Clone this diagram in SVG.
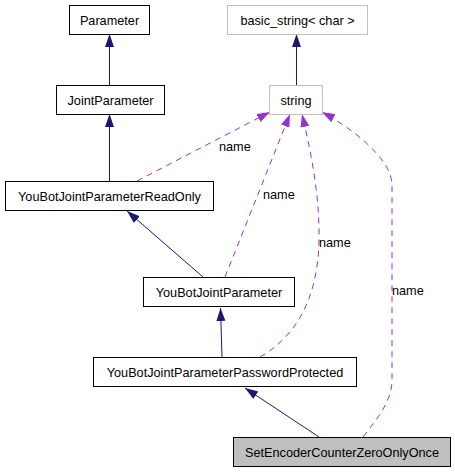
<svg xmlns="http://www.w3.org/2000/svg" width="455" height="472" viewBox="0 0 455 472">
<style>
  .box { fill: #ffffff; stroke: #000000; stroke-width: 1; }
  .gbox { fill: #ffffff; stroke: #bfbfbf; stroke-width: 1; }
  .cur { fill: #bfbfbf; stroke: #000000; stroke-width: 1; }
  text { font-family: "Liberation Sans", Arial, Helvetica, sans-serif; font-size: 12.7px; fill: #000000; }
  .lbl { text-anchor: middle; }
  .inh { fill: none; stroke: #191970; stroke-width: 1; marker-end: url(#navy); }
  .use { fill: none; stroke: #9a32cd; stroke-width: 1; stroke-dasharray: 6,5; marker-end: url(#purple); }
</style>
<defs>
  <marker id="navy" markerUnits="userSpaceOnUse" markerWidth="14" markerHeight="10" refX="13" refY="4.5" orient="auto">
    <path d="M0,0 L13,4.5 L0,9 z" fill="#191970"/>
  </marker>
  <marker id="purple" markerUnits="userSpaceOnUse" markerWidth="14" markerHeight="10" refX="13" refY="4.5" orient="auto">
    <path d="M0,0 L13,4.5 L0,9 z" fill="#9a32cd"/>
  </marker>
</defs>
<rect width="455" height="472" fill="#ffffff"/>
<g id="connectors">
  <path class="inh" d="M109.5,85 L109.5,34"/>
  <path class="inh" d="M109.5,181 L109.5,114"/>
  <path class="inh" d="M203,277 L127,211"/>
  <path class="inh" d="M222,357 L220.5,308"/>
  <path class="inh" d="M319,437 L245,388"/>
  <path class="inh" d="M296.5,85 L296.5,34"/>
  <path class="use" d="M137,181 L270,112"/>
  <path class="use" d="M225,277 L290,114"/>
  <path class="use" d="M260,357 C295,337 318,300 319,240 C320,190 308,140 302,114"/>
  <path class="use" d="M363,437 C380,415 392,400 392,380 L392,185 C392,160 355,130 322,112"/>
  <text x="219" y="151">name</text>
  <text x="263" y="199">name</text>
  <text x="319" y="247">name</text>
  <text x="392" y="295">name</text>
</g>
<g id="Parameter">
  <rect class="box" x="69.5" y="5.5" width="80" height="29"/>
  <text class="lbl" x="109.5" y="24.5">Parameter</text>
</g>
<g id="JointParameter">
  <rect class="box" x="56.5" y="85.5" width="108" height="29"/>
  <text class="lbl" x="110.5" y="104.5">JointParameter</text>
</g>
<g id="YouBotJointParameterReadOnly">
  <rect class="box" x="5.5" y="181.5" width="208" height="29"/>
  <text class="lbl" x="109.5" y="200.5">YouBotJointParameterReadOnly</text>
</g>
<g id="basic_string">
  <rect class="gbox" x="227.5" y="5.5" width="140" height="29"/>
  <text class="lbl" x="297.5" y="24.5">basic_string&lt; char &gt;</text>
</g>
<g id="string">
  <rect class="gbox" x="269.5" y="85.5" width="53" height="29"/>
  <text class="lbl" x="296" y="104.5">string</text>
</g>
<g id="YouBotJointParameter">
  <rect class="box" x="143.5" y="277.5" width="151" height="29"/>
  <text class="lbl" x="219" y="296.5">YouBotJointParameter</text>
</g>
<g id="YouBotJointParameterPasswordProtected">
  <rect class="box" x="93.5" y="357.5" width="263" height="29"/>
  <text class="lbl" x="225" y="376.5">YouBotJointParameterPasswordProtected</text>
</g>
<g id="SetEncoderCounterZeroOnlyOnce">
  <rect class="cur" x="233.5" y="437.5" width="217" height="29"/>
  <text class="lbl" x="342" y="456.5">SetEncoderCounterZeroOnlyOnce</text>
</g>
</svg>
